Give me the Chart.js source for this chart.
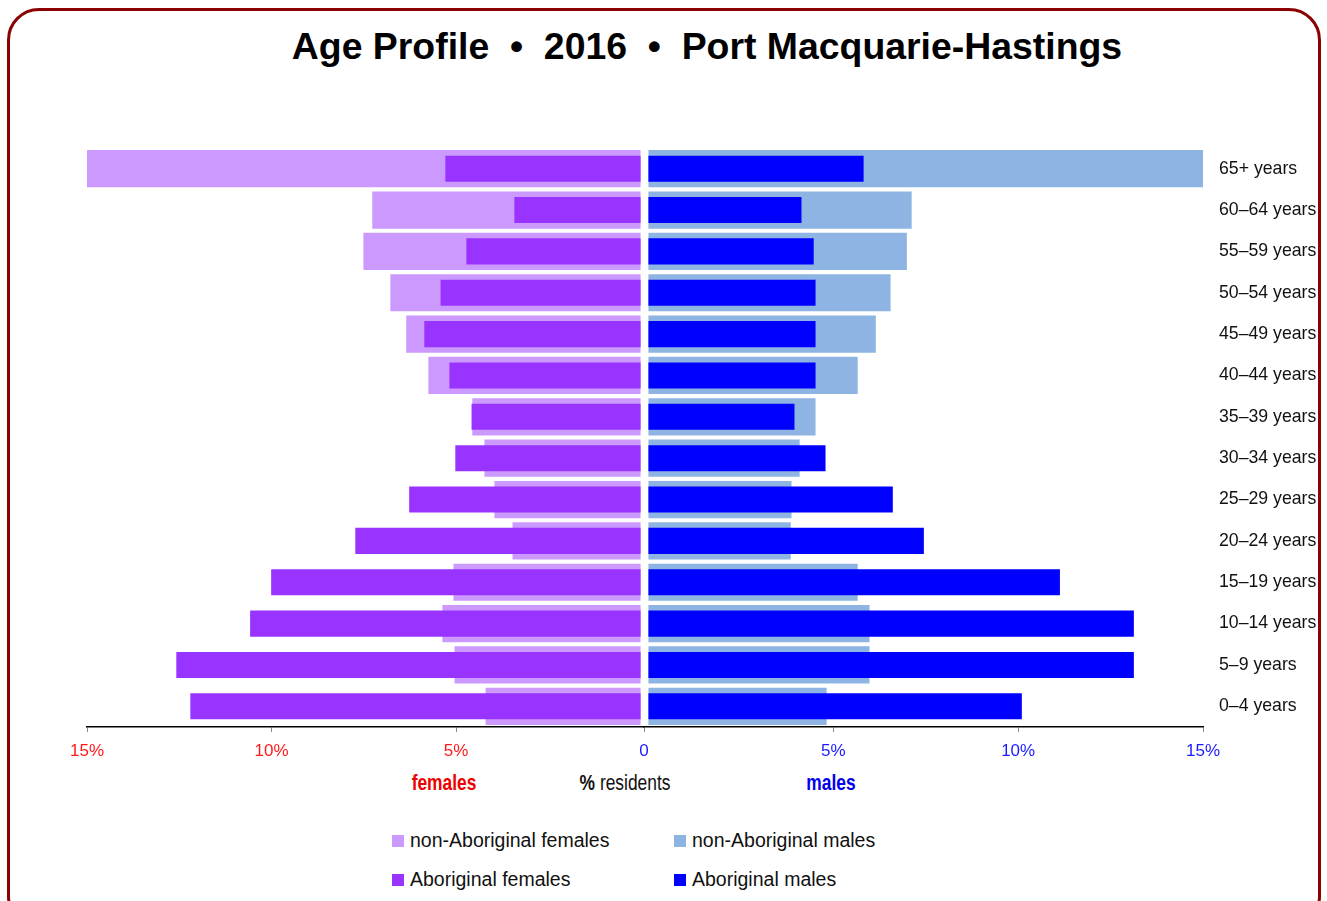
<!DOCTYPE html>
<html>
<head>
<meta charset="utf-8">
<script src="https://cdn.jsdelivr.net/npm/chart.js@4"></script>
<style>
  html, body { margin: 0; padding: 0; background: #fff; overflow: hidden; }
  #wrap { position: relative; width: 1327px; height: 901px; overflow: hidden; }
  #frame {
    position: absolute; left: 7px; top: 8px; width: 1314px; height: 920px;
    border: 3px solid #8b0000; border-radius: 32px; box-sizing: border-box;
  }
  #title {
    position: absolute; left: 0; width: 1414px; top: 25px; text-align: center;
    font: bold 37.4px "Liberation Sans", Arial, sans-serif; white-space: pre; color: #000;
  }
  canvas { position: absolute; top: 0; }
  #leftChart { left: 0; }
  #rightChart { left: 624px; }
  .axisNote {
    position: absolute; top: 770px; font: 22px "Liberation Sans", Arial, sans-serif;
    transform: translateX(-50%) scaleX(0.79); white-space: nowrap;
  }
  #legend { position: absolute; left: 0; top: 0; }
  .item {
    position: absolute; font: 19.5px "Liberation Sans", Arial, sans-serif; color: #111;
    white-space: nowrap; line-height: 24px;
  }
  .item span.sw { display: inline-block; width: 12px; height: 12px; margin-right: 6px; vertical-align: 0px; }
</style>
</head>
<body>
<div id="wrap">
  <div id="frame"></div>
  <div id="title">Age Profile  •  2016  •  Port Macquarie-Hastings</div>
  <canvas id="leftChart" width="645" height="767"></canvas>
  <canvas id="rightChart" width="703" height="767"></canvas>
  <div class="axisNote" style="left:444px;color:#ee0000;font-weight:bold">females</div>
  <div class="axisNote" style="left:625px;color:#111"><b>%</b> residents</div>
  <div class="axisNote" style="left:831px;color:#0000ee;font-weight:bold">males</div>
  <div id="legend"></div>
</div>
<script>
const ageGroups = ["65+ years", "60–64 years", "55–59 years", "50–54 years", "45–49 years",
    "40–44 years", "35–39 years", "30–34 years", "25–29 years", "20–24 years",
    "15–19 years", "10–14 years", "5–9 years", "0–4 years"];

// % of residents
const femNonAboriginal = [15.0, 7.27, 7.51, 6.78, 6.35, 5.75, 4.56, 4.23, 3.96, 3.47, 5.07, 5.37, 5.04, 4.20];
const femAboriginal = [5.29, 3.42, 4.72, 5.42, 5.86, 5.18, 4.58, 5.02, 6.27, 7.73, 10.01, 10.58, 12.58, 12.20];
const maleNonAboriginal = [15.0, 7.12, 6.99, 6.55, 6.15, 5.66, 4.52, 4.09, 3.87, 3.85, 5.66, 5.98, 5.98, 4.82];
const maleAboriginal = [5.82, 4.14, 4.47, 4.52, 4.52, 4.52, 3.95, 4.79, 6.61, 7.45, 11.13, 13.13, 13.13, 10.10];

const xTicks = [5, 10, 15];
const GAP = 0.12; // half the white gap between the two halves, in %

const colors = {
    femLight: "#cc99ff",
    femDark: "#9933ff",
    maleLight: "#8db4e2",
    maleDark: "#0000ff"
};

const sans = '"Liberation Sans", Arial, sans-serif';

const barSets = (light, dark, lightColor, darkColor, lightLabel, darkLabel) => [{
    label: darkLabel,
    data: dark,
    backgroundColor: darkColor,
    barPercentage: 0.63,
    categoryPercentage: 1,
    grouped: false,
    order: 0
}, {
    label: lightLabel,
    data: light,
    backgroundColor: lightColor,
    barPercentage: 0.9,
    categoryPercentage: 1,
    grouped: false,
    order: 1
}];

const xScale = (tickValues, color, reverse) => ({
    type: "linear",
    min: -GAP,
    max: 15,
    reverse: reverse,
    afterBuildTicks: (scale) => {
        scale.ticks = tickValues.map(v => ({ value: v }));
    },
    afterFit: (scale) => {
        scale.height = 40;
        scale.paddingLeft = 0;
        scale.paddingRight = 0;
    },
    grid: {
        display: true,
        drawOnChartArea: false,
        drawTicks: true,
        tickLength: 5,
        tickColor: "#888"
    },
    border: { display: true, color: "#000", width: 1.5 },
    ticks: {
        color: color,
        padding: 9,
        maxRotation: 0,
        font: { family: sans, size: 17 },
        callback: (v) => v <= 0 ? "0" : v + "%"
    }
});

new Chart(document.getElementById("leftChart"), {
    type: "bar",
    data: {
        labels: ageGroups,
        datasets: barSets(femNonAboriginal, femAboriginal, colors.femLight, colors.femDark,
            "non-Aboriginal females", "Aboriginal females")
    },
    options: {
        indexAxis: "y",
        responsive: false,
        animation: false,
        layout: { padding: { left: 87, top: 148, right: 0, bottom: 0 } },
        scales: {
            x: xScale(xTicks, "#ff1a1a", true),
            y: { display: false }
        },
        plugins: { legend: { display: false }, tooltip: { enabled: false } }
    }
});

new Chart(document.getElementById("rightChart"), {
    type: "bar",
    data: {
        labels: ageGroups,
        datasets: barSets(maleNonAboriginal, maleAboriginal, colors.maleLight, colors.maleDark,
            "non-Aboriginal males", "Aboriginal males")
    },
    options: {
        indexAxis: "y",
        responsive: false,
        animation: false,
        layout: { padding: { left: 20, top: 148, right: 8, bottom: 0 } },
        scales: {
            x: xScale([-GAP].concat(xTicks), "#1a1aff", false),
            y: {
                position: "right",
                afterFit: (scale) => { scale.width = 116; },
                grid: { display: false, drawTicks: false },
                border: { display: false },
                ticks: {
                    color: "#111",
                    padding: 16,
                    font: { family: sans, size: 17.7 }
                }
            }
        },
        plugins: { legend: { display: false }, tooltip: { enabled: false } }
    }
});

// legend, 2 x 2
const legendItems = [
    { label: "non-Aboriginal females", color: colors.femLight, left: 392, top: 828 },
    { label: "non-Aboriginal males", color: colors.maleLight, left: 674, top: 828 },
    { label: "Aboriginal females", color: colors.femDark, left: 392, top: 867 },
    { label: "Aboriginal males", color: colors.maleDark, left: 674, top: 867 }
];
const legend = document.getElementById("legend");
legendItems.forEach((it) => {
    const div = document.createElement("div");
    div.className = "item";
    div.style.left = it.left + "px";
    div.style.top = it.top + "px";
    const sw = document.createElement("span");
    sw.className = "sw";
    sw.style.backgroundColor = it.color;
    div.appendChild(sw);
    div.appendChild(document.createTextNode(it.label));
    legend.appendChild(div);
});
</script>
</body>
</html>
